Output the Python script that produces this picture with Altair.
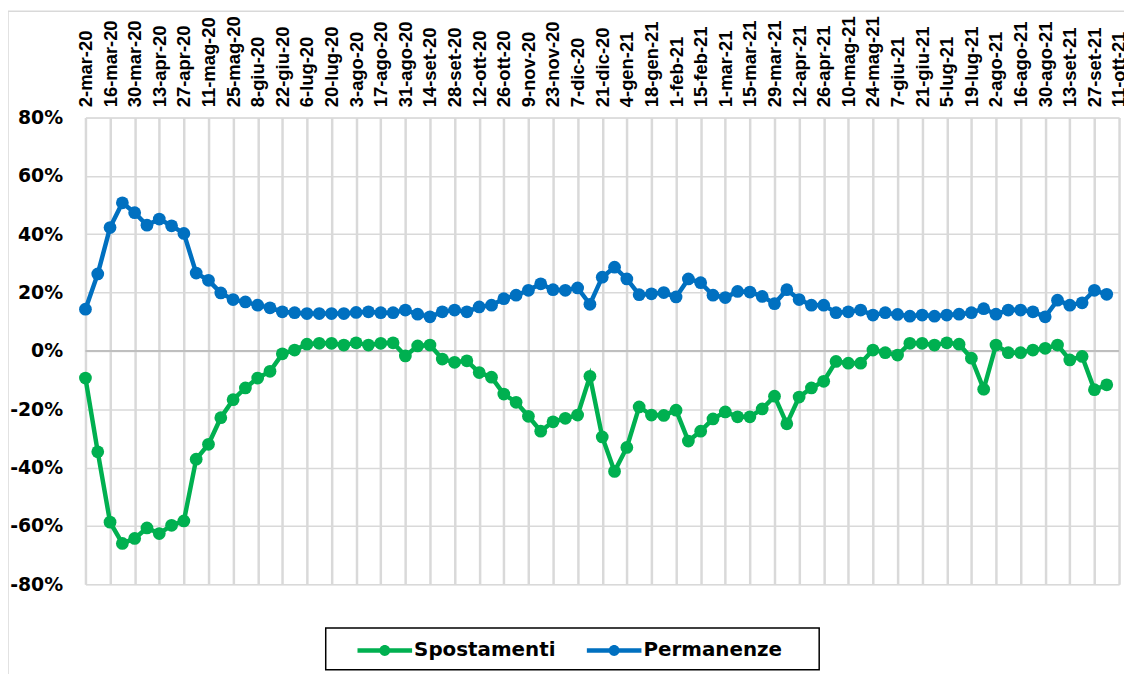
import altair as alt
import pandas as pd

# weekly categories (Monday of each week)
weeks = [
    "2-mar-20", "9-mar-20", "16-mar-20", "23-mar-20", "30-mar-20", "6-apr-20", "13-apr-20", "20-apr-20",
    "27-apr-20", "4-mag-20", "11-mag-20", "18-mag-20", "25-mag-20", "1-giu-20", "8-giu-20", "15-giu-20",
    "22-giu-20", "29-giu-20", "6-lug-20", "13-lug-20", "20-lug-20", "27-lug-20", "3-ago-20", "10-ago-20",
    "17-ago-20", "24-ago-20", "31-ago-20", "7-set-20", "14-set-20", "21-set-20", "28-set-20", "5-ott-20",
    "12-ott-20", "19-ott-20", "26-ott-20", "2-nov-20", "9-nov-20", "16-nov-20", "23-nov-20", "30-nov-20",
    "7-dic-20", "14-dic-20", "21-dic-20", "28-dic-20", "4-gen-21", "11-gen-21", "18-gen-21", "25-gen-21",
    "1-feb-21", "8-feb-21", "15-feb-21", "22-feb-21", "1-mar-21", "8-mar-21", "15-mar-21", "22-mar-21",
    "29-mar-21", "5-apr-21", "12-apr-21", "19-apr-21", "26-apr-21", "3-mag-21", "10-mag-21", "17-mag-21",
    "24-mag-21", "31-mag-21", "7-giu-21", "14-giu-21", "21-giu-21", "28-giu-21", "5-lug-21", "12-lug-21",
    "19-lug-21", "26-lug-21", "2-ago-21", "9-ago-21", "16-ago-21", "23-ago-21", "30-ago-21", "6-set-21",
    "13-set-21", "20-set-21", "27-set-21", "4-ott-21", "11-ott-21",
]
tick_labels = weeks[::2]

# percent values (Spostamenti = movements, Permanenze = stays)
spostamenti = [
    -9.3, -34.6, -58.7, -66.0, -64.3, -60.7, -62.6, -59.8, -58.3, -37.1,
    -32.0, -22.9, -16.7, -12.7, -9.3, -7.0, -1.0, 0.3, 2.3, 2.6,
    2.6, 2.0, 2.8, 2.0, 2.6, 2.8, -1.7, 1.7, 2.0, -2.8,
    -3.9, -3.4, -7.4, -9.0, -14.8, -17.6, -22.4, -27.5, -24.3, -23.1,
    -22.0, -8.7, -29.5, -41.3, -33.1, -19.2, -22.0, -22.1, -20.3, -30.9,
    -27.5, -23.3, -20.9, -22.6, -22.6, -19.9, -15.5, -25.0, -15.8, -12.7,
    -10.4, -3.6, -4.2, -4.2, 0.3, -0.6, -1.4, 2.6, 2.6, 2.0,
    2.8, 2.3, -2.5, -13.1, 2.0, -0.6, -0.6, 0.3, 0.9, 2.0,
    -3.1, -1.9, -13.3, -11.6,
]
permanenze = [
    14.3, 26.4, 42.3, 50.8, 47.4, 43.1, 45.2, 42.9, 40.3, 26.7,
    24.2, 19.9, 17.6, 16.8, 15.7, 14.8, 13.4, 13.1, 12.8, 12.8,
    12.8, 12.8, 13.2, 13.4, 13.1, 13.1, 14.0, 12.6, 11.7, 13.4,
    14.0, 13.4, 15.1, 15.7, 17.9, 19.1, 20.8, 23.0, 21.0, 20.8,
    21.6, 16.0, 25.3, 28.7, 24.7, 19.3, 19.6, 20.0, 18.5, 24.7,
    23.4, 19.1, 18.3, 20.4, 20.2, 18.7, 16.2, 21.0, 17.6, 15.7,
    15.7, 13.1, 13.4, 14.0, 12.3, 13.1, 12.5, 11.9, 12.3, 11.9,
    12.3, 12.6, 13.1, 14.5, 12.6, 14.0, 14.0, 13.4, 11.7, 17.4,
    15.7, 16.5, 20.8, 19.4,
]
series_names = ["Spostamenti", "Permanenze"]
series_colors = ["#00B050", "#0070C0"]
y_ticks = [-0.8, -0.6, -0.4, -0.2, 0.0, 0.2, 0.4, 0.6, 0.8]

rows = []
for name, vals in zip(series_names, [spostamenti, permanenze]):
    for w, v in zip(weeks, vals):
        rows.append({"week": w, "serie": name, "value": v / 100.0})
df = pd.DataFrame(rows)

W, H = 1041, 470

x_enc = alt.X(
    "week:N",
    sort=weeks,
    scale=alt.Scale(domain=weeks, type="point", padding=0),
    axis=alt.Axis(
        orient="top", values=tick_labels, labelAngle=270, title=None,
        labelFont="Liberation Sans", labelFontWeight="bold", labelFontSize=18.5,
        labelColor="#000000", labelPadding=11, ticks=False, domain=False,
        grid=True, gridColor="#D9D9D9", gridWidth=2.5, labelOverlap=False,
    ),
)
y_enc = alt.Y(
    "value:Q",
    scale=alt.Scale(domain=[-0.8, 0.8], nice=False, zero=False),
    axis=alt.Axis(
        values=y_ticks, labelExpr="round(datum.value * 100) + '%'", title=None,
        labelFont="DejaVu Sans", labelFontWeight="bold", labelFontSize=19,
        labelColor="#000000", labelPadding=23, ticks=False, domain=False,
        grid=True, gridColor="#D9D9D9", gridWidth=1.5,
    ),
)

legend_path = ("M-1,-0.08H1V0.08H-1Z "
               "M-0.2,0A0.2,0.2 0 1,1 0.2,0A0.2,0.2 0 1,1 -0.2,0Z")
color_enc = alt.Color(
    "serie:N",
    scale=alt.Scale(domain=series_names, range=series_colors),
    legend=alt.Legend(
        orient="none", legendX=274, legendY=509, direction="horizontal",
        title=None, symbolType=legend_path, symbolSize=3025,
        symbolStrokeWidth=0, labelFont="DejaVu Sans", labelFontWeight="bold",
        labelFontSize=20, labelColor="#000000", labelOffset=2,
        columnPadding=31, padding=0,
    ),
)

border = alt.Chart(alt.Data(values=[{}])).mark_rect(
    fillOpacity=0, stroke="#D9D9D9", strokeWidth=1.5
).encode(x=alt.value(-78), x2=alt.value(1100), y=alt.value(-107), y2=alt.value(700))

legend_box = alt.Chart(alt.Data(values=[{}])).mark_rect(
    fillOpacity=0, stroke="#000000", strokeWidth=1.5
).encode(x=alt.value(242), x2=alt.value(739), y=alt.value(514), y2=alt.value(556))

zero_rule = alt.Chart(alt.Data(values=[{}])).mark_rule(
    color="#BFBFBF", strokeWidth=2
).encode(y=alt.datum(0))

base = alt.Chart(df)
lines = base.mark_line(strokeWidth=4.5).encode(x=x_enc, y=y_enc, color=color_enc, detail="serie:N")
points = base.mark_circle(size=165, opacity=1).encode(x=x_enc, y=y_enc, color=color_enc)

chart = alt.layer(border, zero_rule, lines, points, legend_box).properties(
    width=W, height=H,
    autosize=alt.AutoSizeParams(type="none"),
    padding={"left": 78, "top": 108, "right": 5, "bottom": 88},
).configure_view(stroke=None).configure(background="#FFFFFF")

chart.save("out.html", embed_options={"renderer": "svg", "actions": False})
